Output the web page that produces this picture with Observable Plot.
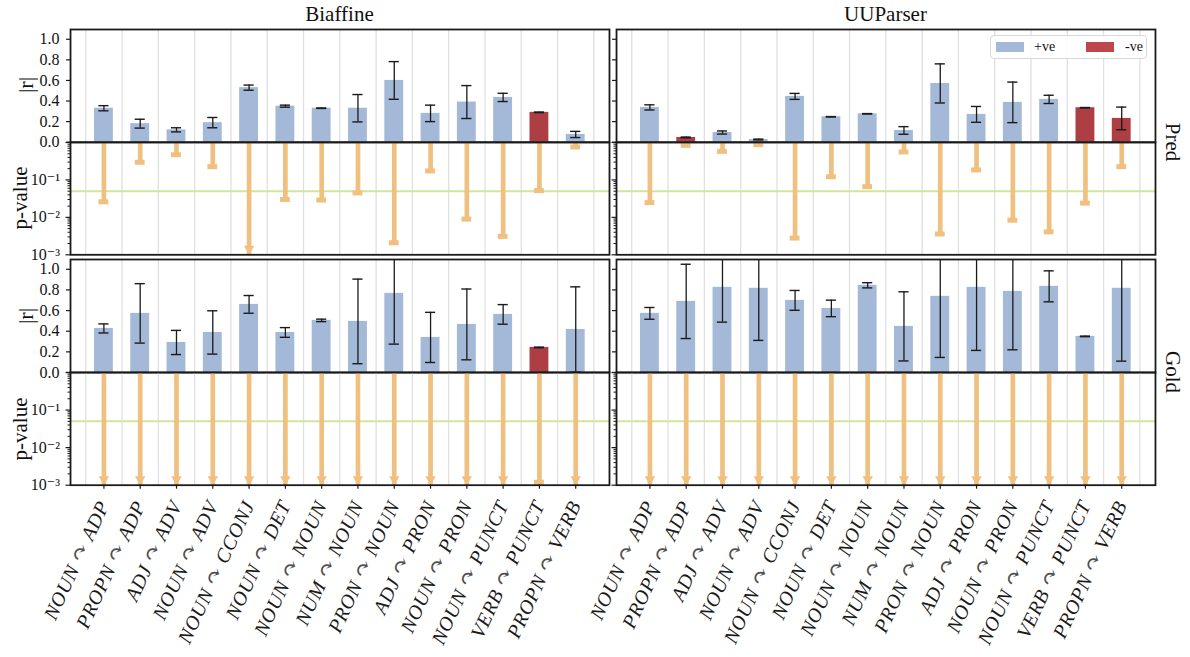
<!DOCTYPE html>
<html><head><meta charset="utf-8">
<script src="https://cdn.jsdelivr.net/npm/d3@7"></script>
<script src="https://cdn.jsdelivr.net/npm/@observablehq/plot@0.6"></script>
<style>
body{margin:0;background:#fff;}
#root{position:relative;width:1190px;height:657px;font-family:"Liberation Serif","DejaVu Serif",serif;color:#111;overflow:hidden;background:#fff}
.abs{position:absolute;white-space:nowrap;line-height:1}
#root svg{overflow:visible;position:absolute}
</style></head><body><div id="root"></div>
<script>
// ---------- data ----------
const categories = ["NOUN ↷ ADP","PROPN ↷ ADP","ADJ ↷ ADV","NOUN ↷ ADV","NOUN ↷ CCONJ","NOUN ↷ DET","NOUN ↷ NOUN","NUM ↷ NOUN","PRON ↷ NOUN","ADJ ↷ PRON","NOUN ↷ PRON","NOUN ↷ PUNCT","VERB ↷ PUNCT","PROPN ↷ VERB"];
const models = ["Biaffine","UUParser"];
const rowNames = ["Pred","Gold"];

const biaffinePredR   = [0.33, 0.18, 0.12, 0.19, 0.53, 0.35, 0.33, 0.33, 0.60, 0.28, 0.39, 0.435, 0.29, 0.075];
const biaffinePredErr = [0.025, 0.043, 0.02, 0.05, 0.025, 0.01, 0.002, 0.133, 0.183, 0.08, 0.16, 0.04, 0.003, 0.03];
const biaffinePredSign= [1,1,1,1,1,1,1,1,1,1,1,1,-1,1];
const biaffinePredP   = [0.026, 0.296, 0.473, 0.226, 0.0005, 0.030, 0.029, 0.045, 0.0021, 0.174, 0.0090, 0.0031, 0.052, 0.76];

const uuparserPredR   = [0.338, 0.046, 0.094, 0.026, 0.445, 0.247, 0.276, 0.114, 0.571, 0.27, 0.387, 0.416, 0.335, 0.231];
const uuparserPredErr = [0.025, 0.004, 0.015, 0.004, 0.029, 0.002, 0.002, 0.037, 0.19, 0.077, 0.197, 0.04, 0.002, 0.11];
const uuparserPredSign= [1,-1,1,1,1,1,1,1,1,1,1,1,-1,-1];
const uuparserPredP   = [0.0248, 0.84, 0.58, 0.875, 0.0028, 0.122, 0.066, 0.56, 0.0036, 0.185, 0.0084, 0.0041, 0.024, 0.226];

const biaffineGoldR   = [0.427, 0.573, 0.291, 0.388, 0.66, 0.388, 0.505, 0.495, 0.767, 0.34, 0.466, 0.563, 0.243, 0.417];
const biaffineGoldErr = [0.044, 0.288, 0.117, 0.21, 0.086, 0.047, 0.012, 0.41, 0.492, 0.243, 0.343, 0.095, 0.003, 0.413];
const biaffineGoldSign= [1,1,1,1,1,1,1,1,1,1,1,1,-1,1];
const biaffineGoldP   = [0.0005, 0.0005, 0.0005, 0.0005, 0.0005, 0.0005, 0.0005, 0.0005, 0.0005, 0.0005, 0.0005, 0.0005, 0.0012, 0.0005];

const uuparserGoldR   = [0.573, 0.689, 0.825, 0.816, 0.699, 0.621, 0.845, 0.447, 0.738, 0.825, 0.786, 0.835, 0.35, 0.816];
const uuparserGoldErr = [0.057, 0.36, 0.337, 0.505, 0.096, 0.08, 0.025, 0.335, 0.592, 0.611, 0.566, 0.15, 0.003, 0.706];
const uuparserGoldSign= [1,1,1,1,1,1,1,1,1,1,1,1,1,1];
const uuparserGoldP   = [0.0005, 0.0005, 0.0005, 0.0005, 0.0005, 0.0005, 0.0005, 0.0005, 0.0005, 0.0005, 0.0005, 0.0005, 0.0005, 0.0005];

const rTicks = [0, 0.2, 0.4, 0.6, 0.8, 1.0];
const pMajorTicks = [1, 0.1, 0.01, 0.001];
const pMinorTicks = [0.9,0.8,0.7,0.6,0.5,0.4,0.3,0.2, 0.09,0.08,0.07,0.06,0.05,0.04,0.03,0.02, 0.009,0.008,0.007,0.006,0.005,0.004,0.003,0.002];
const pThreshold = 0.05;
const legendItems = ["+ve", "-ve"];

// ---------- style ----------
const BLUE = "#a3b9d7", RED = "#ad3e44", LEGRED = "#bd474c", ORANGE = "#efc07f", GREEN = "#cfe69c", GRID = "#e0e0e0", INK = "#1a1a1a";
const FONT = "Liberation Serif, DejaVu Serif, serif";
const COLX = [70, 616], FW = 539;
const ROWS = {
  Pred: {r: [29, 141.7], p: [141.7, 254]},
  Gold: {r: [259.3, 372.3], p: [372.3, 485]}
};
const XDOM = [-0.92, 13.93];
const root = document.getElementById("root");

function table(r, e, s, p) {
  return categories.map((c, i) => ({i, c, r: r[i], e: e[i], neg: s[i] < 0, p: p[i]}));
}
const gridX = categories.map((_, i) => i - 0.5).concat([categories.length - 0.5]);
const supMap = {"-": "⁻", "0": "⁰", "1": "¹", "2": "²", "3": "³", "4": "⁴", "5": "⁵", "6": "⁶", "7": "⁷", "8": "⁸", "9": "⁹"};
const logFmt = d => d === 1 ? "" : "10" + String(Math.round(Math.log10(d))).split("").map(ch => supMap[ch]).join("");

function place(svg, left, top) {
  svg.style.left = left + "px";
  svg.style.top = top + "px";
  root.appendChild(svg);
}

function rPanel(data, col, row) {
  const [y0, y1] = ROWS[row].r;
  const ml = col === 0 ? 60 : 10, mr = 2, mt = 2, mb = 2;
  const h = y1 - y0;
  const hi = 1.095;
  const svg = Plot.plot({
    width: ml + FW + mr, height: mt + h + mb,
    marginLeft: ml, marginRight: mr, marginTop: mt, marginBottom: mb,
    style: {fontFamily: FONT, fontSize: "16px", background: "none", overflow: "visible"},
    x: {domain: XDOM, axis: null},
    y: {domain: [0, hi]},
    marks: [
      Plot.ruleX(gridX, {stroke: GRID, strokeWidth: 1.3}),
      Plot.rectY(data.filter(d => !d.neg), {x1: d => d.i - 0.26, x2: d => d.i + 0.26, y1: 0, y2: "r", fill: BLUE}),
      Plot.rectY(data.filter(d => d.neg), {x1: d => d.i - 0.26, x2: d => d.i + 0.26, y1: 0, y2: "r", fill: RED}),
      Plot.ruleX(data, {x: "i", y1: d => Math.max(0, d.r - d.e), y2: d => Math.min(hi, d.r + d.e), stroke: INK, strokeWidth: 1.3}),
      Plot.ruleY(data.filter(d => d.r + d.e <= hi), {y: d => d.r + d.e, x1: d => d.i - 0.14, x2: d => d.i + 0.14, stroke: INK, strokeWidth: 1.4}),
      Plot.ruleY(data, {y: d => Math.max(0, d.r - d.e), x1: d => d.i - 0.14, x2: d => d.i + 0.14, stroke: INK, strokeWidth: 1.4}),
      Plot.axisY({ticks: rTicks, tickSize: 4, tickPadding: 7, fontSize: 16, fontFamily: FONT, stroke: INK, strokeWidth: 1.2,
                  tickFormat: col === 0 ? d3.format(".1f") : () => "", label: null}),
      Plot.frame({stroke: INK, strokeWidth: 1.8})
    ]
  });
  place(svg, COLX[col] - ml, y0 - mt);
}

function pPanel(data, col, row, bottom) {
  const [y0, y1] = ROWS[row].p;
  const ml = col === 0 ? 60 : 10, mr = 2, mt = 2, mb = 2;
  const h = y1 - y0;
  const marks = [
    Plot.ruleX(gridX, {stroke: GRID, strokeWidth: 1.3}),
    Plot.ruleY([pThreshold], {stroke: GREEN, strokeWidth: 2}),
    Plot.ruleX(data, {x: "i", y1: 1, y2: d => Math.max(d.p, 0.001), stroke: ORANGE, strokeWidth: 4.7}),
    Plot.ruleY(data.filter(d => d.p >= 0.001), {y: "p", x1: d => d.i - 0.135, x2: d => d.i + 0.135, stroke: ORANGE, strokeWidth: 5}),
    Plot.dot(data.filter(d => d.p < 0.001), {x: "i", y: () => 0.001, dy: -6, symbol: "triangle", r: 3.9, rotate: 180, fill: ORANGE, stroke: "none"}),
    Plot.axisY({ticks: pMajorTicks, tickSize: 4.5, tickPadding: 6, fontSize: 16, fontFamily: FONT, stroke: INK, strokeWidth: 1.2,
                tickFormat: col === 0 ? logFmt : () => "", label: null}),
    Plot.axisY({ticks: pMinorTicks, tickSize: 2.5, stroke: INK, strokeWidth: 1, tickFormat: () => "", label: null}),
    Plot.frame({stroke: INK, strokeWidth: 1.8})
  ];
  if (bottom) {
    marks.push(Plot.axisX({ticks: categories.map((_, i) => i), tickSize: 4, stroke: INK, strokeWidth: 1.2, tickFormat: () => "", label: null}));
    marks.push(Plot.text(data, {x: "i", frameAnchor: "bottom", text: "c", rotate: -65, textAnchor: "end", lineAnchor: "middle",
                                dx: 0, dy: 17, fontSize: 20, fontFamily: FONT, fontStyle: "italic", fill: INK}));
  }
  const svg = Plot.plot({
    width: ml + FW + mr, height: mt + h + mb,
    marginLeft: ml, marginRight: mr, marginTop: mt, marginBottom: mb,
    style: {fontFamily: FONT, fontSize: "16px", background: "none", overflow: "visible"},
    x: {domain: XDOM, axis: bottom ? undefined : null},
    y: {type: "log", domain: [0.001, 1]},
    marks
  });
  if (bottom) {
    // slightly enlarge and lighten the relation arrow glyph (text content unchanged)
    svg.querySelectorAll('g[aria-label="text"] text').forEach(t => {
      t.style.letterSpacing = "0.6px";
      const parts = t.textContent.split("↷");
      if (parts.length !== 2) return;
      t.textContent = "";
      const ns = "http://www.w3.org/2000/svg";
      t.appendChild(document.createTextNode(parts[0]));
      const ts = document.createElementNS(ns, "tspan");
      ts.textContent = "↷";
      ts.setAttribute("font-size", "22");
      ts.setAttribute("font-style", "normal");
      ts.setAttribute("fill", "#505050");
      t.appendChild(ts);
      t.appendChild(document.createTextNode(parts[1]));
    });
  }
  place(svg, COLX[col] - ml, y0 - mt);
}

const panels = [
  ["Pred", 0, table(biaffinePredR, biaffinePredErr, biaffinePredSign, biaffinePredP)],
  ["Pred", 1, table(uuparserPredR, uuparserPredErr, uuparserPredSign, uuparserPredP)],
  ["Gold", 0, table(biaffineGoldR, biaffineGoldErr, biaffineGoldSign, biaffineGoldP)],
  ["Gold", 1, table(uuparserGoldR, uuparserGoldErr, uuparserGoldSign, uuparserGoldP)]
];
for (const [row, col, data] of panels) {
  rPanel(data, col, row);
  pPanel(data, col, row, row === "Gold");
}

// ---------- text ----------
function addText(txt, left, top, css) {
  const d = document.createElement("div");
  d.className = "abs";
  d.textContent = txt;
  d.style.left = left + "px";
  d.style.top = top + "px";
  Object.assign(d.style, css || {});
  root.appendChild(d);
  return d;
}
models.forEach((m, c) => addText(m, COLX[c] + FW / 2, 4, {fontSize: "21px", transform: "translateX(-50%)"}));
rowNames.forEach(rn => {
  const yc = (ROWS[rn].r[0] + ROWS[rn].p[1]) / 2;
  addText(rn, 1172, yc, {fontSize: "21px", transform: "translate(-50%,-50%) rotate(90deg)"});
  addText("|r|", 26, (ROWS[rn].r[0] + ROWS[rn].r[1]) / 2, {fontSize: "22px", transform: "translate(-50%,-50%) rotate(-90deg)"});
  addText("p-value", 20, (ROWS[rn].p[0] + ROWS[rn].p[1]) / 2, {fontSize: "21px", transform: "translate(-50%,-50%) rotate(-90deg)"});
});
// legend
const leg = document.createElement("div");
leg.className = "abs";
Object.assign(leg.style, {left: "990px", top: "35px", width: "157px", height: "24px", border: "1px solid #d9d9d9", borderRadius: "4px", background: "rgba(255,255,255,0.85)", boxSizing: "border-box"});
root.appendChild(leg);
[[BLUE, 996, 1034], [LEGRED, 1086, 1125]].forEach(([col, sx, tx], k) => {
  const sw = document.createElement("div");
  sw.className = "abs";
  Object.assign(sw.style, {left: sx + "px", top: "42px", width: "28px", height: "10px", background: col});
  root.appendChild(sw);
  addText(legendItems[k], tx, 40, {fontSize: "14px"});
});
</script></body></html>
